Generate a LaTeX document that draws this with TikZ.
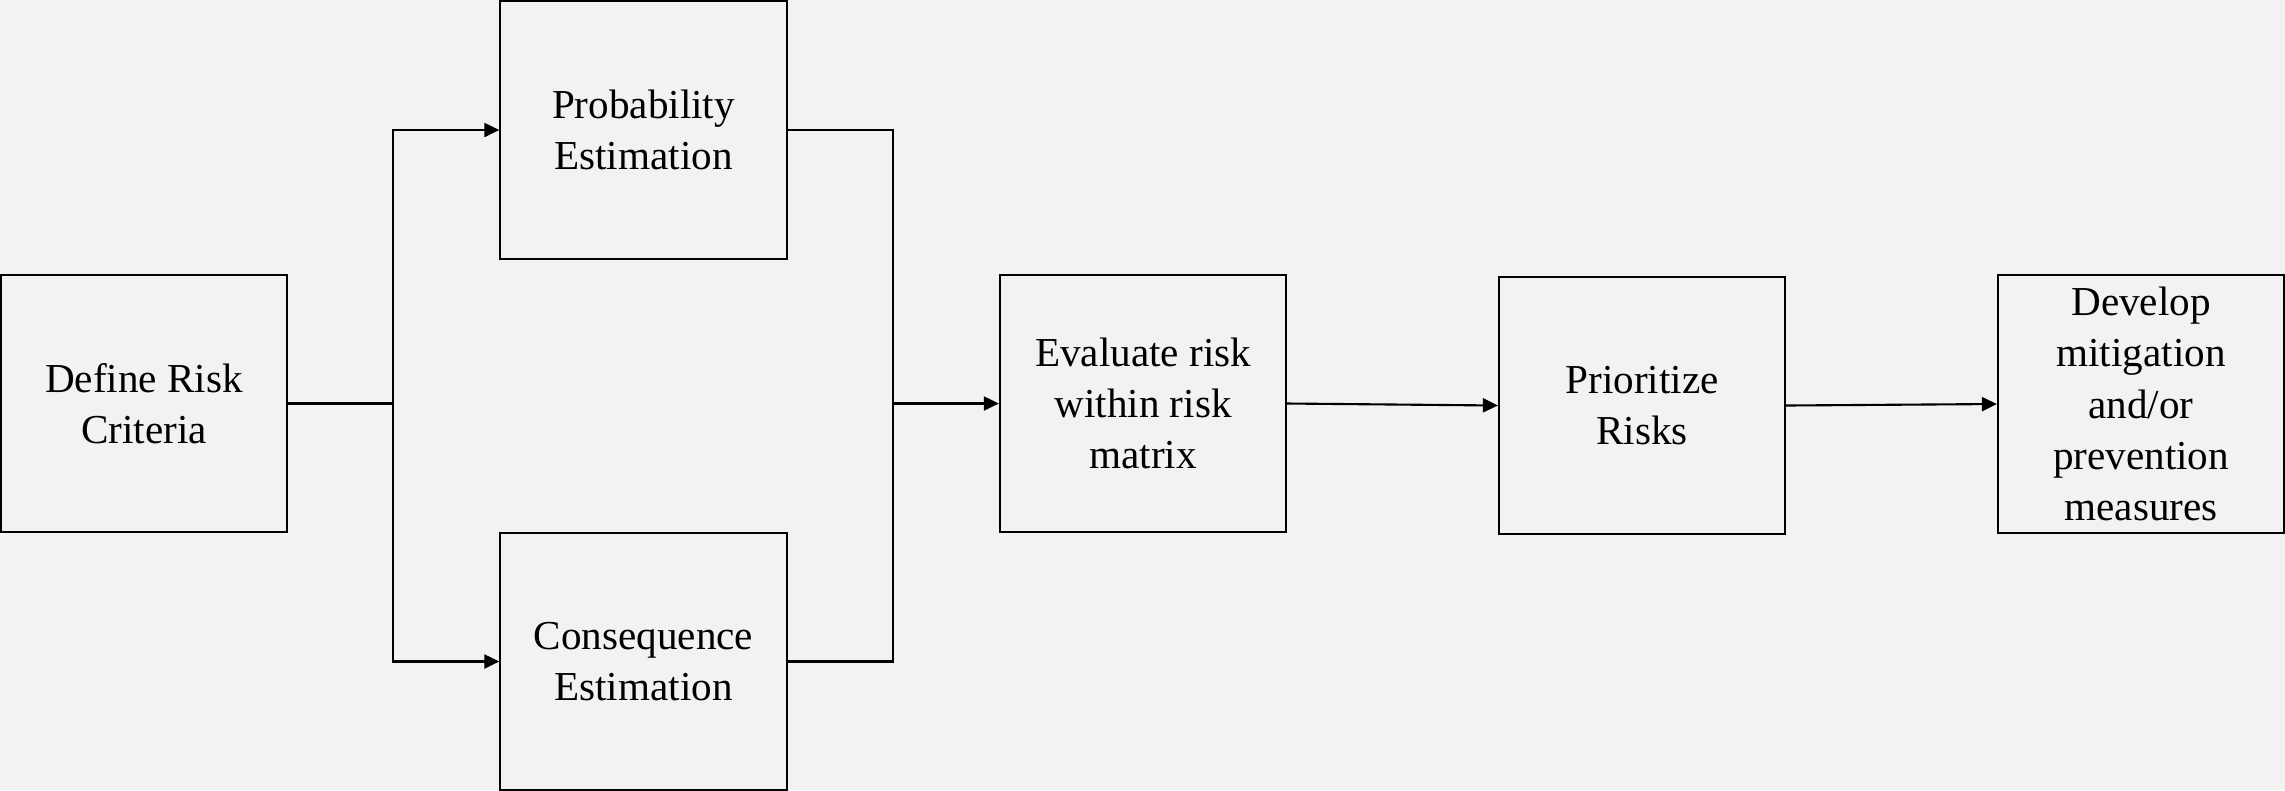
\documentclass[tikz,border=0pt]{standalone}
\usepackage{fontspec}
\setmainfont{Liberation Serif}
\usetikzlibrary{arrows.meta}
\definecolor{bg}{HTML}{F2F2F2}
\begin{document}
\begin{tikzpicture}[x=0.01cm,y=-0.01cm,
  box/.style={draw=black, line width=0.6pt, minimum width=2.86cm, minimum height=2.57cm,
    inner sep=0pt, align=center, font=\fontsize{11.7pt}{14.6pt}\selectfont},
  conn/.style={draw=black, line width=0.6pt},
  arr/.style={conn, -{Triangle[length=0.15cm,width=0.14cm]}}]
\fill[bg] (0,0) rectangle (2285,790);
\useasboundingbox (0,0) rectangle (2285,790);
\node[box] (D) at (144,403.5) {Define Risk\\Criteria};
\node[box] (P) at (643.5,130) {Probability\\Estimation};
\node[box] (C) at (643.5,661.5) {Consequence\\Estimation};
\node[box] (E) at (1143,403.5) {Evaluate risk\\within risk\\matrix};
\node[box] (R) at (1642,405.5) {Prioritize\\Risks};
\node[box] (M) at (2141,404) {Develop\\mitigation\\and/or\\prevention\\measures};
\coordinate (j1) at (393,403.5);
\coordinate (j2) at (893,403.5);
\draw[conn] (D.east) -- (j1);
\draw[arr] (j1) |- (P.west);
\draw[arr] (j1) |- (C.west);
\draw[conn] (P.east) -| (j2);
\draw[conn] (C.east) -| (j2);
\draw[arr] (j2) -- (E.west);
\draw[arr] (E.east) -- (R.west);
\draw[arr] (R.east) -- (M.west);
\end{tikzpicture}
\end{document}
